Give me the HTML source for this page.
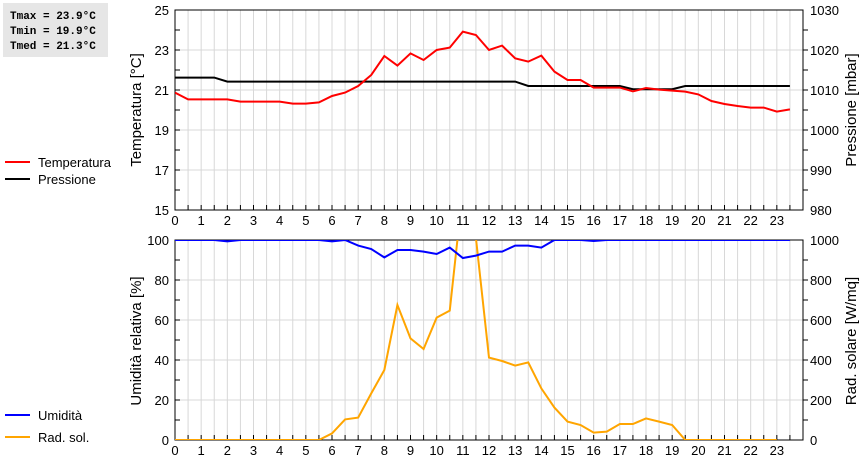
<!DOCTYPE html>
<html><head><meta charset="utf-8"><style>
body{margin:0;background:#fff;width:860px;height:460px;overflow:hidden;font-family:"Liberation Sans",sans-serif}
svg text{font-family:"Liberation Sans",sans-serif;font-size:13px;fill:#000}
</style></head><body>
<svg id="c" width="860" height="460" xmlns="http://www.w3.org/2000/svg">
<rect x="3" y="3" width="105" height="54" fill="#e6e6e6"/>
<text x="10" y="19" style="font-family:'Liberation Mono',monospace;font-size:11px;font-weight:bold">Tmax = 23.9°C</text>
<text x="10" y="34" style="font-family:'Liberation Mono',monospace;font-size:11px;font-weight:bold">Tmin = 19.9°C</text>
<text x="10" y="49" style="font-family:'Liberation Mono',monospace;font-size:11px;font-weight:bold">Tmed = 21.3°C</text>
<g><line x1="5" y1="162" x2="30" y2="162" stroke="#f00" stroke-width="2"/><text x="38" y="167">Temperatura</text></g>
<g><line x1="5" y1="179" x2="30" y2="179" stroke="#000" stroke-width="2"/><text x="38" y="184">Pressione</text></g>
<g><line x1="5" y1="415" x2="30" y2="415" stroke="#00f" stroke-width="2"/><text x="38" y="420">Umidità</text></g>
<g><line x1="5" y1="437" x2="30" y2="437" stroke="#ffa500" stroke-width="2"/><text x="38" y="442">Rad. sol.</text></g>
<text transform="translate(141,110) rotate(-90)" text-anchor="middle" style="font-size:15px">Temperatura [°C]</text>
<text transform="translate(856,110) rotate(-90)" text-anchor="middle" style="font-size:15px">Pressione [mbar]</text>
<text transform="translate(141,341) rotate(-90)" text-anchor="middle" style="font-size:15px">Umidità relativa [%]</text>
<text transform="translate(856,341) rotate(-90)" text-anchor="middle" style="font-size:15px">Rad. solare [W/mq]</text>
</svg>
<script>
const hours = Array.from({length:48},(_,i)=>i/2);
const temperature = [20.87,20.53,20.53,20.53,20.53,20.42,20.42,20.42,20.42,20.32,20.32,20.38,20.7,20.87,21.2,21.75,22.7,22.22,22.83,22.5,23.0,23.12,23.92,23.75,23.0,23.22,22.58,22.42,22.72,21.92,21.5,21.5,21.12,21.12,21.12,20.93,21.1,21.02,20.97,20.92,20.78,20.45,20.3,20.2,20.12,20.12,19.92,20.03];
const pressure = [1013.1,1013.1,1013.1,1013.1,1012.1,1012.1,1012.1,1012.1,1012.1,1012.1,1012.1,1012.1,1012.1,1012.1,1012.1,1012.1,1012.1,1012.1,1012.1,1012.1,1012.1,1012.1,1012.1,1012.1,1012.1,1012.1,1012.1,1011,1011,1011,1011,1011,1011,1011,1011,1010.2,1010.2,1010.2,1010.2,1011,1011,1011,1011,1011,1011,1011,1011,1011];
const humidity = [100,100,100,100,99.3,100,100,100,100,100,100,100,99.3,100,97.2,95.5,91.3,95,95,94.2,93,96.2,91,92.2,94.2,94.2,97.2,97.2,96.2,100,100,100,99.5,100,100,100,100,100,100,100,100,100,100,100,100,100,100,100];
const solar = [0,0,0,0,0,0,0,0,0,0,0,0,33,103,112,233,350,675,508,455,612,647,1250,1010,412,395,372,388,258,162,92,75,37,42,80,80,108,92,75,0,0,0,0,0,0,0,0];
const xTicks = Array.from({length:24},(_,i)=>i);
const tempTicks = [15,17,19,21,23,25];
const presTicks = [980,990,1000,1010,1020,1030];
const humTicks = [0,20,40,60,80,100];
const solTicks = [0,200,400,600,800,1000];

const NS="http://www.w3.org/2000/svg", svg=document.getElementById('c');
const L=175,R=803;
const x=h=>L+(R-L)*h/24;
function mk(tag,attrs,parent){const e=document.createElementNS(NS,tag);for(const k in attrs)e.setAttribute(k,attrs[k]);(parent||svg).appendChild(e);return e;}
function panel(top,bot,lmin,lmax,lticks,rmin,rmax,rticks,name){
  const g=mk('g',{});
  
  
  const yl=v=>bot-(bot-top)*(v-lmin)/(lmax-lmin);
  const yr=v=>bot-(bot-top)*(v-rmin)/(rmax-rmin);
  for(let h=0.5;h<24;h+=0.5){const l=mk('line',{x1:x(h),x2:x(h),y1:top,y2:bot,stroke:'#d8d8d8'},g);
    
    mk('line',{x1:x(h),x2:x(h),y1:bot,y2:bot-5,stroke:'#000'},g);}
  lticks.forEach((v,i)=>{const y=yl(v);
    if(i>0&&i<lticks.length-1){const l=mk('line',{x1:L,x2:R,y1:y,y2:y,stroke:'#d8d8d8'},g);
      }
    const t=mk('text',{x:L-6,y:y+5,'text-anchor':'end'},g);t.textContent=v;
    });
  const step=(bot-top)/10;
  for(let k=1;k<10;k++){const y=top+k*step;mk('line',{x1:L,x2:L+5,y1:y,y2:y,stroke:'#000'},g);mk('line',{x1:R,x2:R+5,y1:y,y2:y,stroke:'#000'},g);}
  rticks.forEach(v=>{const t=mk('text',{x:R+7,y:yr(v)+5},g);t.textContent=v;
    });
  xTicks.forEach(h=>{const t=mk('text',{x:x(h),y:bot+15,'text-anchor':'middle'},g);t.textContent=h;
    });
  mk('rect',{x:L,y:top,width:R-L,height:bot-top,fill:'none',stroke:'#000'},g);
  return {yl,yr,g};
}
function series(vals,yf,color,name,top,bot,clipId){
  const cp=mk('clipPath',{id:clipId});mk('rect',{x:L,y:top,width:R-L,height:bot-top},cp);
  const p=mk('polyline',{points:vals.map((v,i)=>x(hours[i])+','+yf(v)).join(' '),fill:'none',stroke:color,'stroke-width':2,'clip-path':'url(#'+clipId+')'});
  
  
}
const a=panel(10,210,15,25,tempTicks,980,1030,presTicks,'top');
series(pressure,a.yr,'#000','pressure-line',10,210,'c1');
series(temperature,a.yl,'#f00','temperature-line',10,210,'c2');
const b=panel(240,440,0,100,humTicks,0,1000,solTicks,'bottom');
series(solar,b.yr,'#ffa500','solar-line',240,440,'c3');
series(humidity,b.yl,'#00f','humidity-line',240,441,'c4');
</script>
</body></html>
